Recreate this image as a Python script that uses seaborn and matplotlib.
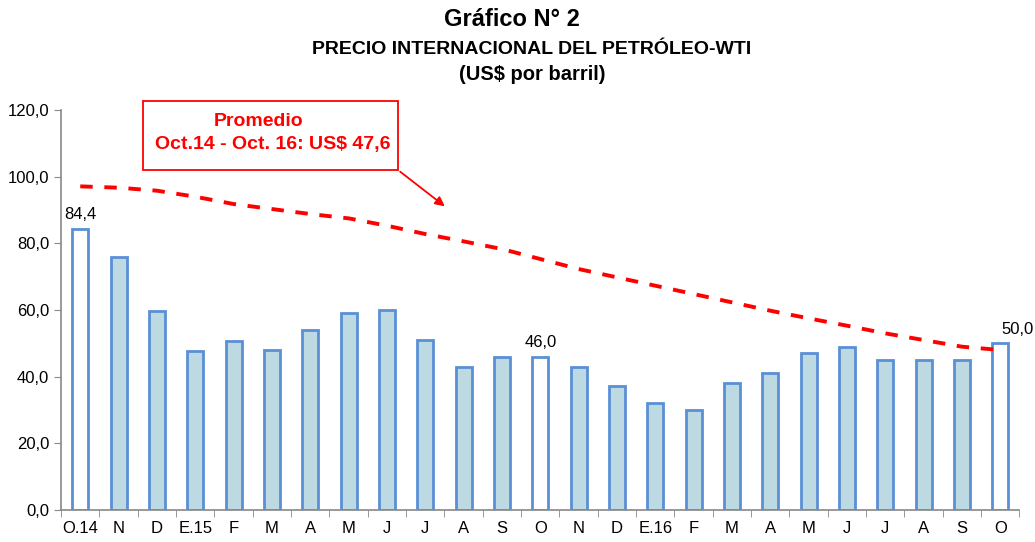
import pandas as pd
import seaborn as sns
import numpy as np
import matplotlib.pyplot as plt

# Monthly WTI price, Oct.14 - Oct.16
meses = ["O.14", "N", "D", "E.15", "F", "M", "A", "M", "J", "J", "A", "S", "O",
         "N", "D", "E.16", "F", "M", "A", "M", "J", "J", "A", "S", "O"]
precio = [84.4, 75.9, 59.8, 47.6, 50.6, 47.9, 54.1, 59.1, 60.1, 51.1, 43.0, 46.0, 46.0,
          43.0, 37.1, 32.1, 30.1, 38.1, 41.0, 47.0, 49.0, 45.1, 45.1, 45.1, 50.0]
# Octubre bars are drawn hollow
resaltado = [True, False, False, False, False, False, False, False, False, False, False, False, True,
             False, False, False, False, False, False, False, False, False, False, False, True]
# Red dashed trend
tendencia = [97.1, 96.7, 95.8, 94.0, 91.8, 90.3, 88.8, 87.5, 85.3, 82.8, 80.6, 78.3, 75.3,
             72.3, 69.8, 67.3, 64.8, 62.3, 59.8, 57.5, 55.3, 53.0, 51.0, 49.0, 48.0]
etiquetas = {0: "84,4", 12: "46,0", 24: "50,0"}

sns.set_style("white")
plt.rcParams['font.family'] = ['Liberation Sans', 'DejaVu Sans']
plt.rcParams['text.color'] = 'black'
plt.rcParams['xtick.color'] = 'black'
plt.rcParams['ytick.color'] = 'black'

df = pd.DataFrame({"pos": [str(i) for i in range(len(meses))],
                   "precio": precio,
                   "tipo": ["oct" if r else "mes" for r in resaltado]})

fig = plt.figure(figsize=(10.35, 5.42), dpi=100)
ax = fig.add_axes([0.059, 0.059, 0.926, 0.738])

sns.barplot(data=df, x="pos", y="precio", hue="tipo", order=df["pos"],
            palette={"mes": "#b7dde8", "oct": "white"}, dodge=False, legend=False,
            width=0.42, edgecolor="#5b8fd6", linewidth=2, ax=ax)

x_pos = np.arange(len(meses))
sns.lineplot(x=x_pos, y=tendencia, ax=ax, color="#ff0000", linewidth=2.8)
ax.lines[-1].set_dashes((3.2, 3))

for i, txt in etiquetas.items():
    dx = 0.45 if i == len(meses) - 1 else 0
    ax.text(i + dx, precio[i] + 2, txt, ha="center", va="bottom", fontsize=12)

ax.set_xlim(-0.5, len(meses) - 0.5)
ax.set_ylim(0, 120)
ax.set_yticks(np.arange(0, 121, 20))
ax.set_yticklabels([f"{v:.1f}".replace(".", ",") for v in np.arange(0, 121, 20)], fontsize=12)
ax.set_xticks(x_pos)
ax.set_xticklabels(meses, fontsize=12)
ax.set_xticks(np.arange(-0.5, len(meses), 1), minor=True)
ax.tick_params(axis="x", which="major", length=0, pad=8)
ax.tick_params(axis="x", which="minor", length=5, color="#888888", direction="out", bottom=True)
ax.tick_params(axis="y", length=5, color="#888888", direction="out", left=True)
ax.set_xlabel("")
ax.set_ylabel("")
for s in ["top", "right"]:
    ax.spines[s].set_visible(False)
for s in ["left", "bottom"]:
    ax.spines[s].set_color("#888888")
    ax.spines[s].set_linewidth(1.2)

# Titles
fig.text(512 / 1035, 1 - 20 / 542, "Gráfico N° 2", ha="center", va="center", fontsize=17, fontweight="bold")
fig.text(532 / 1035, 1 - 50 / 542, "PRECIO INTERNACIONAL DEL PETRÓLEO-WTI", ha="center", va="center",
         fontsize=14, fontweight="bold")
fig.text(532 / 1035, 1 - 74 / 542, "(US$ por barril)", ha="center", va="center", fontsize=14.5,
         fontweight="bold")

# Average box with arrow
box = plt.Rectangle((143 / 1035, 1 - 170 / 542), 255 / 1035, 69 / 542, transform=fig.transFigure,
                    fill=False, edgecolor="#ff0000", linewidth=1.3)
fig.patches.append(box)
fig.text(259 / 1035, 1 - 121 / 542, "Promedio", ha="center", va="center", color="#ff0000",
         fontsize=14, fontweight="bold")
fig.text(273 / 1035, 1 - 145 / 542, "Oct.14 - Oct. 16: US$ 47,6", ha="center", va="center",
         color="#ff0000", fontsize=14, fontweight="bold")
ax.annotate("", xy=(447 / 1035, 1 - 208 / 542), xycoords="figure fraction",
            xytext=(398 / 1035, 1 - 170 / 542), textcoords="figure fraction",
            arrowprops=dict(arrowstyle="-|>", color="#ff0000", lw=1.3, mutation_scale=14))

fig.savefig("out.png", dpi=100)
